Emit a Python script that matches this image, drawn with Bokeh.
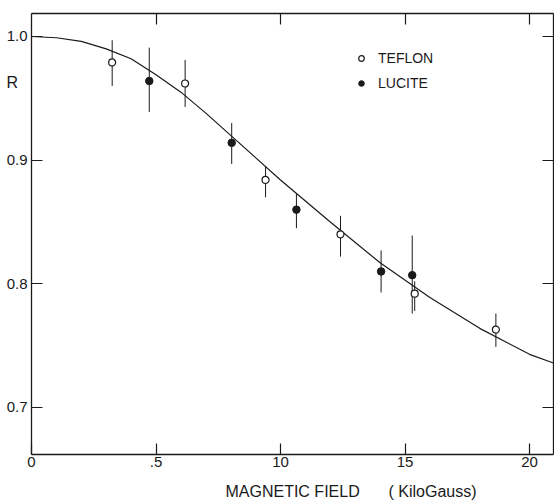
from bokeh.plotting import figure
from bokeh.models import (Range1d, LinearAxis, FixedTicker, Label, Legend, LegendItem)
from bokeh.embed import file_html
from bokeh.resources import INLINE

# ---- data ----
curve_x = [0, 1, 2, 3, 4, 5, 6, 7, 8, 10, 12, 14, 16, 18, 20, 20.96]
curve_r = [1.000, 0.999, 0.996, 0.990, 0.982, 0.969, 0.955, 0.938, 0.920, 0.884,
           0.850, 0.817, 0.789, 0.764, 0.743, 0.736]

teflon_x = [3.24, 6.17, 9.40, 12.41, 15.39, 18.65]
teflon_r = [0.979, 0.962, 0.884, 0.840, 0.792, 0.763]
teflon_lo = [0.960, 0.943, 0.870, 0.822, 0.778, 0.749]
teflon_hi = [0.997, 0.981, 0.895, 0.855, 0.802, 0.776]

lucite_x = [4.73, 8.04, 10.64, 14.04, 15.29]
lucite_r = [0.964, 0.914, 0.860, 0.810, 0.807]
lucite_lo = [0.939, 0.897, 0.845, 0.793, 0.776]
lucite_hi = [0.991, 0.930, 0.873, 0.827, 0.839]

x_ticks = [0, 5, 10, 15, 20]
x_tick_labels = {0: "0", 5: ".5", 10: "10", 15: "15", 20: "20"}
y_ticks = [0.7, 0.8, 0.9, 1.0]
y_tick_labels = {0.7: "0.7", 0.8: "0.8", 0.9: "0.9", 1.0: "1.0"}

X_MIN, X_MAX = 0.0, 20.96
Y_MIN, Y_MAX = 0.662, 1.0186

FONT = "Liberation Sans"
INK = "#1a1a1a"

p = figure(width=554, height=500, output_backend="svg", toolbar_location=None,
           x_range=Range1d(-1.245, 21.004), y_range=Range1d(0.6248, 1.0291),
           min_border=0, x_axis_type=None, y_axis_type=None)
p.grid.visible = False
p.background_fill_color = "white"
p.border_fill_color = "white"
p.outline_line_color = None

def style_axis(ax, labels=True, size="15px"):
    ax.axis_line_color = INK
    ax.axis_line_width = 1.3
    ax.major_tick_line_color = INK
    ax.major_tick_line_width = 1.2
    ax.major_tick_in = 11
    ax.major_tick_out = 0
    ax.minor_tick_line_color = None
    ax.major_label_text_font = FONT
    ax.major_label_text_font_size = size
    ax.major_label_text_color = INK if labels else None

xb = LinearAxis(ticker=FixedTicker(ticks=x_ticks), fixed_location=Y_MIN, bounds=(X_MIN, X_MAX))
style_axis(xb)
xb.major_label_overrides = x_tick_labels
xb.major_label_standoff = 3
p.add_layout(xb, "below")

xt = LinearAxis(ticker=FixedTicker(ticks=x_ticks[1:]), fixed_location=Y_MAX, bounds=(X_MIN, X_MAX))
style_axis(xt, labels=False)
p.add_layout(xt, "above")

yl = LinearAxis(ticker=FixedTicker(ticks=y_ticks), fixed_location=X_MIN, bounds=(Y_MIN, Y_MAX))
style_axis(yl)
yl.major_label_overrides = y_tick_labels
yl.major_label_standoff = 4
p.add_layout(yl, "left")

yr = LinearAxis(ticker=FixedTicker(ticks=y_ticks), fixed_location=X_MAX, bounds=(Y_MIN, Y_MAX))
style_axis(yr, labels=False)
p.add_layout(yr, "right")

# theory curve
p.line(curve_x, curve_r, line_color=INK, line_width=1.2)

# error bars
p.segment(x0=teflon_x, y0=teflon_lo, x1=teflon_x, y1=teflon_hi, line_color=INK, line_width=1)
p.segment(x0=lucite_x, y0=lucite_lo, x1=lucite_x, y1=lucite_hi, line_color=INK, line_width=1)

# points
r_tef = p.scatter(teflon_x, teflon_r, marker="circle", size=7, fill_color="white",
                  line_color=INK, line_width=1.2)
r_luc = p.scatter(lucite_x, lucite_r, marker="circle", size=7.5, fill_color=INK,
                  line_color=INK, line_width=1)

# legend
legend = Legend(items=[LegendItem(label="TEFLON", renderers=[r_tef]),
                       LegendItem(label="LUCITE", renderers=[r_luc])],
                location=(354, 407), border_line_color=None,
                background_fill_alpha=0, padding=0, margin=0, spacing=5,
                label_text_font=FONT, label_text_font_size="14px",
                label_text_color=INK, glyph_width=14, glyph_height=20,
                label_height=20, label_standoff=10)
p.add_layout(legend, "center")

# axis titles
p.add_layout(Label(x=-0.77, y=0.963, text="R", text_font=FONT, text_font_size="16px",
                   text_align="center", text_baseline="middle", text_color=INK))
p.add_layout(Label(x=7.79, y=0.632, text="MAGNETIC FIELD", text_font=FONT,
                   text_font_size="16px", text_align="left", text_baseline="alphabetic",
                   text_color=INK))
p.add_layout(Label(x=14.34, y=0.632, text="( KiloGauss)", text_font=FONT,
                   text_font_size="16px", text_align="left", text_baseline="alphabetic",
                   text_color=INK))

open("out.html", "w").write(file_html(p, INLINE))
